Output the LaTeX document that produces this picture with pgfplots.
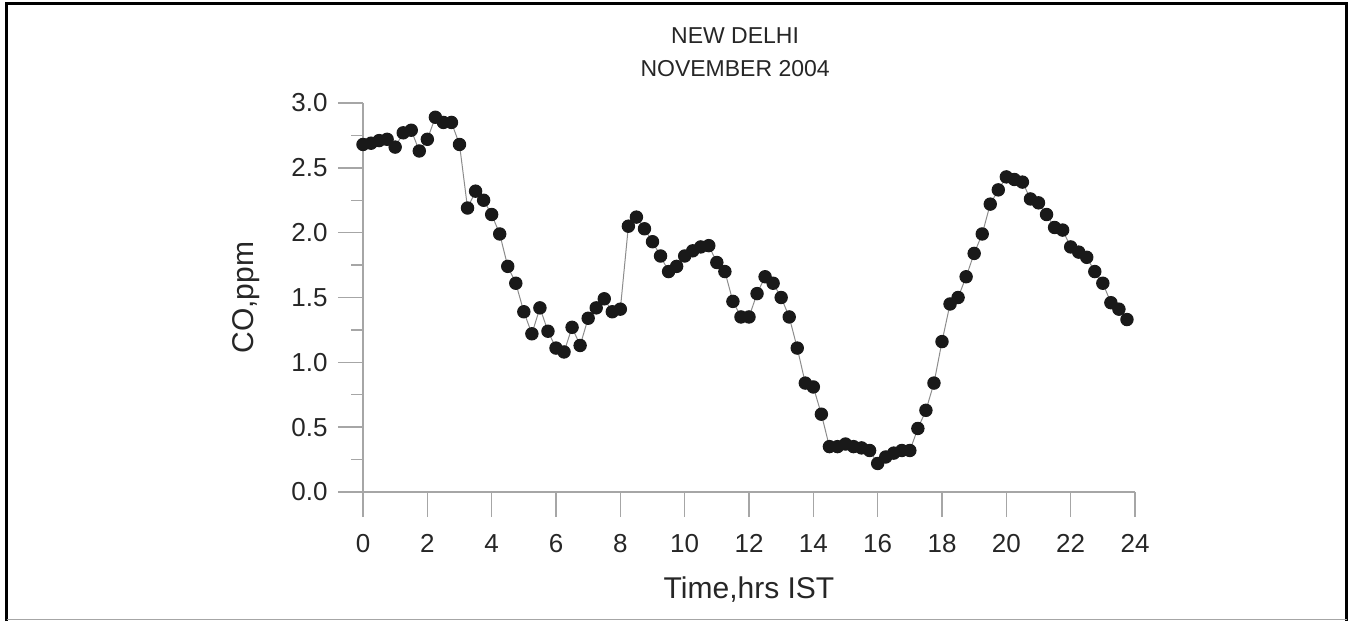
\documentclass[border=0pt]{standalone}
\usepackage{fontspec}
\setmainfont{Liberation Sans}
\usepackage{pgfplots}
\pgfplotsset{compat=1.18}
\definecolor{axgray}{gray}{0.65}
\definecolor{linegray}{gray}{0.55}
\definecolor{dot}{gray}{0.1}

\begin{document}
\begin{tikzpicture}[x=1pt,y=1pt]
\path[use as bounding box] (0,0) rectangle (674,310.5);
\draw[line width=1.5pt] (3.25,0) -- (3.25,308.75) -- (673.25,308.75) -- (673.25,0);
\draw[axgray, line width=0.6pt] (3.25,0.75) -- (673.25,0.75);
\begin{axis}[at={(181.5pt,64.5pt)}, anchor=south west,
    scale only axis, width=386pt, height=194.5pt,
    xmin=0, xmax=24, ymin=0, ymax=3, clip=false,
    axis x line*=bottom, axis y line*=left,
    axis line style={axgray, line width=0.7pt, -},
    xtick={0,2,4,6,8,10,12,14,16,18,20,22,24},
    ytick={0,0.5,1,1.5,2,2.5,3}, minor y tick num=1,
    tick align=outside, major tick length=12.5pt, minor tick length=6pt,
    every tick/.style={axgray, line width=0.7pt},
    /pgf/number format/assume math mode=true,
    tick label style={font=\fontsize{13}{15}\selectfont, text=black!85},
    xticklabel style={inner sep=0pt}, yticklabel style={inner sep=0pt},
    xticklabel shift=8.5pt, yticklabel shift=5pt,
    yticklabel style={/pgf/number format/.cd, fixed, fixed zerofill, precision=1},
    label style={font=\fontsize{15}{18}\selectfont, text=black!85},
    xlabel={Time,hrs IST}, ylabel={CO,ppm},
    xlabel style={at={(axis description cs:0.5,-0.2519)}, anchor=center},
    ylabel style={at={(axis description cs:-0.1515,0.5)}, anchor=center},
    title={NEW DELHI\\NOVEMBER 2004},
    title style={at={(axis description cs:0.482,1.099)}, anchor=center, align=center,
        font=\fontsize{11.5}{16.5}\selectfont, text=black!85},
]
\addplot[linegray, line width=0.5pt, mark=*, mark size=3.1pt,
    mark options={fill=dot, draw=dot}] coordinates {
(0,2.68)(0.25,2.69)(0.5,2.71)(0.75,2.72)(1,2.66)(1.25,2.77)(1.5,2.79)(1.75,2.63)
(2,2.72)(2.25,2.89)(2.5,2.85)(2.75,2.85)(3,2.68)(3.25,2.19)(3.5,2.32)(3.75,2.25)
(4,2.14)(4.25,1.99)(4.5,1.74)(4.75,1.61)(5,1.39)(5.25,1.22)(5.5,1.42)(5.75,1.24)
(6,1.11)(6.25,1.08)(6.5,1.27)(6.75,1.13)(7,1.34)(7.25,1.42)(7.5,1.49)(7.75,1.39)
(8,1.41)(8.25,2.05)(8.5,2.12)(8.75,2.03)(9,1.93)(9.25,1.82)(9.5,1.70)(9.75,1.74)
(10,1.82)(10.25,1.86)(10.5,1.89)(10.75,1.90)(11,1.77)(11.25,1.70)(11.5,1.47)(11.75,1.35)
(12,1.35)(12.25,1.53)(12.5,1.66)(12.75,1.61)(13,1.50)(13.25,1.35)(13.5,1.11)(13.75,0.84)
(14,0.81)(14.25,0.60)(14.5,0.35)(14.75,0.35)(15,0.37)(15.25,0.35)(15.5,0.34)(15.75,0.32)
(16,0.22)(16.25,0.27)(16.5,0.30)(16.75,0.32)(17,0.32)(17.25,0.49)(17.5,0.63)(17.75,0.84)
(18,1.16)(18.25,1.45)(18.5,1.50)(18.75,1.66)(19,1.84)(19.25,1.99)(19.5,2.22)(19.75,2.33)
(20,2.43)(20.25,2.41)(20.5,2.39)(20.75,2.26)(21,2.23)(21.25,2.14)(21.5,2.04)(21.75,2.02)
(22,1.89)(22.25,1.85)(22.5,1.81)(22.75,1.70)(23,1.61)(23.25,1.46)(23.5,1.41)(23.75,1.33)
};
\end{axis}
\end{tikzpicture}
\end{document}
